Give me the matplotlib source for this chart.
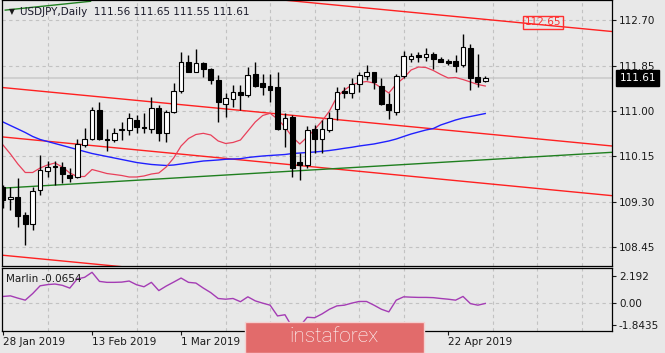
import matplotlib.pyplot as plt
import matplotlib.transforms as mtransforms
from matplotlib.patches import Rectangle

# USDJPY daily bars, 28 Jan 2019 .. 29 Apr 2019
opens = [109.58, 109.36, 109.40, 109.05, 108.88, 109.52, 109.88, 109.98, 109.96, 109.80,
         109.77, 110.36, 110.47, 111.01, 110.48, 110.46, 110.64, 110.65, 110.84, 110.70,
         110.66, 111.05, 110.58, 110.99, 111.38, 111.91, 111.73, 111.89, 111.78, 111.58,
         111.13, 111.22, 111.36, 111.29, 111.70, 111.53, 111.47, 111.44, 110.66, 110.88,
         110.04, 109.99, 110.66, 110.47, 110.65, 111.03, 111.37, 111.33, 111.50, 111.66,
         111.72, 111.47, 111.14, 110.99, 111.66, 111.97, 112.05, 112.00, 112.06, 111.98,
         111.94, 111.94, 111.86, 112.18, 111.64, 111.56]
highs = [109.62, 109.58, 109.75, 109.12, 109.58, 110.18, 110.07, 110.07, 110.05, 109.93,
         110.47, 110.68, 111.08, 111.16, 110.66, 110.68, 110.80, 110.96, 110.92, 110.96,
         111.27, 111.11, 111.02, 111.53, 112.10, 112.05, 112.16, 111.92, 111.80, 111.67,
         111.33, 111.49, 111.49, 111.83, 111.92, 111.70, 111.70, 111.73, 110.96, 110.92,
         110.21, 110.72, 110.74, 110.83, 110.99, 111.45, 111.45, 111.61, 111.72, 111.86,
         111.73, 111.61, 111.33, 111.70, 112.12, 112.08, 112.11, 112.17, 112.11, 112.01,
         111.98, 112.05, 112.43, 112.26, 112.06, 111.65]
lows = [109.19, 109.15, 108.84, 108.50, 108.78, 109.43, 109.77, 109.62, 109.65, 109.68,
        109.74, 110.33, 110.46, 110.46, 110.26, 110.43, 110.46, 110.55, 110.58, 110.58,
        110.58, 110.44, 110.43, 110.97, 111.33, 111.72, 111.72, 111.64, 111.50, 110.80,
        110.88, 111.08, 111.02, 111.27, 111.45, 111.30, 111.17, 110.65, 110.33, 109.77,
        109.71, 109.93, 110.21, 110.21, 110.61, 110.84, 111.24, 111.24, 111.36, 111.58,
        111.42, 111.11, 110.85, 110.93, 111.61, 111.91, 111.91, 111.93, 111.78, 111.91,
        111.86, 111.73, 111.83, 111.39, 111.45, 111.55]
closes = [109.34, 109.40, 109.03, 108.88, 109.50, 109.90, 109.96, 109.95, 109.82, 109.74,
          110.38, 110.47, 111.02, 110.47, 110.45, 110.59, 110.65, 110.86, 110.70, 110.69,
          111.05, 110.58, 110.99, 111.38, 111.91, 111.73, 111.89, 111.78, 111.58, 111.17,
          111.24, 111.36, 111.30, 111.67, 111.47, 111.45, 111.40, 110.66, 110.86, 109.94,
          109.99, 110.65, 110.47, 110.66, 110.86, 111.35, 111.33, 111.50, 111.67, 111.72,
          111.54, 111.14, 111.02, 111.65, 112.03, 112.03, 112.00, 112.06, 111.97, 111.92,
          111.90, 111.85, 112.20, 111.61, 111.54, 111.61]

# moving averages (fast = red, slow = blue)
ma_fast = [110.365, 110.197, 110.010, 109.851, 109.851, 109.935, 109.991, 110.029, 109.954, 109.842,
           109.776, 109.776, 109.907, 109.870, 109.832, 109.814, 109.795, 109.767, 109.767, 109.786,
           109.823, 109.842, 109.954, 110.122, 110.346, 110.486, 110.561, 110.583, 110.552, 110.440,
           110.393, 110.412, 110.458, 110.626, 110.795, 110.916, 110.957, 110.851, 110.701, 110.514,
           110.384, 110.514, 110.654, 110.813, 111.000, 111.262, 111.392, 111.486, 111.532, 111.551,
           111.523, 111.430, 111.336, 111.504, 111.617, 111.766, 111.822, 111.813, 111.757, 111.682,
           111.617, 111.626, 111.588, 111.542, 111.495, 111.467]
ma_slow = [110.795, 110.729, 110.664, 110.598, 110.524, 110.468, 110.430, 110.393, 110.356, 110.318,
           110.281, 110.243, 110.206, 110.178, 110.150, 110.122, 110.094, 110.066, 110.038, 110.019,
           110.001, 109.991, 109.982, 109.991, 110.010, 110.029, 110.047, 110.066, 110.075, 110.085,
           110.098, 110.103, 110.109, 110.131, 110.146, 110.159, 110.169, 110.178, 110.187, 110.206,
           110.215, 110.225, 110.234, 110.247, 110.262, 110.281, 110.303, 110.322, 110.346, 110.365,
           110.384, 110.412, 110.440, 110.477, 110.524, 110.570, 110.608, 110.645, 110.673, 110.739,
           110.785, 110.832, 110.869, 110.897, 110.925, 110.953]

# Marlin oscillator
marlin = [0.52, 0.57, 0.38, 0.21, 0.76, 1.41, 1.51, 1.56, 1.45, 1.22,
          1.98, 2.12, 2.54, 1.78, 1.70, 1.70, 1.72, 1.81, 1.50, 1.33,
          1.70, 1.01, 1.39, 1.72, 2.06, 1.70, 1.64, 1.22, 0.84, 0.35,
          0.29, 0.35, 0.08, 0.49, 0.15, -0.04, -0.21, -1.11, -1.01, -2.06,
          -1.98, -1.22, -1.26, -0.94, -0.55, -0.27, -0.21, -0.04, 0.10, 0.10,
          -0.21, -0.55, -0.77, 0.21, 0.49, 0.46, 0.44, 0.44, 0.42, 0.35,
          0.29, 0.21, 0.52, -0.08, -0.21, -0.0654]

# trend lines: (bar0, price0, bar1, price1)
red_lines = [(-0.4, 113.58, 82.1, 112.485),
             (-0.4, 111.443, 82.1, 110.346),
             (-0.4, 110.52, 82.1, 109.418),
             (-0.4, 108.31, 82.1, 107.21)]
green_lines = [(-0.4, 109.556, 82.1, 110.2285),
               (0.3, 112.885, 11.8, 113.05)]

price_ticks = [108.45, 109.30, 110.15, 111.00, 111.85, 112.70]
marlin_ticks = [-1.8435, 0.0, 2.192]
marlin_tick_labels = ['-1.8435', '0.00', '2.192']
date_pos = [0, 12, 24, 60]
date_labels = ['28 Jan 2019', '13 Feb 2019', '1 Mar 2019', '22 Apr 2019']
last_price = 111.61
level_label = 112.65

bg = '#e8e8e8'
W, H = 665, 353


def box(l, t, r, b):
    return [l / W, 1 - b / H, (r - l) / W, (b - t) / H]


fig = plt.figure(figsize=(6.65, 3.53), dpi=100)
fig.patch.set_facecolor(bg)
ax = fig.add_axes(box(2, 0, 612, 266))
osc = fig.add_axes(box(2, 268, 612, 331), sharex=ax)

n = len(closes)
x = list(range(n))

for a in (ax, osc):
    a.set_facecolor(bg)
    for s in a.spines.values():
        s.set_linewidth(0.9)
        s.set_color('black')
    a.set_xticks(range(0, 84, 6), minor=True)
    a.grid(which='minor', axis='x', color='#c2c2c2', lw=0.8, ls=(0, (3, 3)))
    a.tick_params(which='minor', length=0)
    a.yaxis.tick_right()
    a.tick_params(axis='y', direction='out', length=3, pad=2, labelsize=7.5, colors='#1a1a1a')

# main chart
ax.set_xlim(-0.135, 82.08)
ax.set_ylim(108.104, 113.074)
ax.set_yticks(price_ticks)
ax.set_yticklabels(['%.2f' % v for v in price_ticks])
ax.grid(which='major', axis='y', color='#c2c2c2', lw=0.8, ls=(0, (3, 3)))
ax.tick_params(axis='x', which='major', bottom=False, labelbottom=False)

ax.axhline(last_price, color='#cccccc', lw=1.2, zorder=1)

for (x0, p0, x1, p1) in red_lines:
    ax.plot([x0, x1], [p0, p1], color='#ff2020', lw=1, zorder=2)
for (x0, p0, x1, p1) in green_lines:
    ax.plot([x0, x1], [p0, p1], color='#1f7f1f', lw=1, zorder=2)

ax.plot(x, ma_slow, color='#2020ff', lw=1, zorder=2)
ax.plot(x, ma_fast, color='#e8405a', lw=0.9, zorder=2)

ax.vlines(x, lows, highs, color='black', lw=1, zorder=3)
bottoms = [min(o, c) for o, c in zip(opens, closes)]
heights = [max(abs(c - o), 0.015) for o, c in zip(opens, closes)]
colors = ['white' if c >= o else 'black' for o, c in zip(opens, closes)]
ax.bar(x, heights, bottom=bottoms, width=0.64, color=colors, edgecolor='black',
       linewidth=0.8, zorder=4)

trans = mtransforms.blended_transform_factory(ax.transAxes, ax.transData)
ax.text(1.012, last_price, '%.2f' % last_price, transform=trans, color='white',
        fontsize=7.5, va='center', ha='left', clip_on=False,
        bbox=dict(boxstyle='square,pad=0.3', facecolor='black', edgecolor='black'))
ax.text(70.3, level_label + 0.01, '%.2f' % level_label, color='#ff3030', fontsize=7.5,
        va='center', ha='left', zorder=5,
        bbox=dict(boxstyle='square,pad=0.15', facecolor='none', edgecolor='#ff3030', lw=1))

ax.text(0.011, 0.955, '\u25bc', transform=ax.transAxes, fontsize=5.5, color='#1a1a1a',
        va='center', ha='left')
ax.text(0.030, 0.955, 'USDJPY,Daily  111.56 111.65 111.55 111.61', transform=ax.transAxes,
        fontsize=7.5, color='#1a1a2a', va='center', ha='left')

# oscillator
osc.set_ylim(-2.37, 2.90)
osc.plot(x, marlin, color='#a43cb4', lw=1)
osc.axhline(0, color='#c2c2c2', lw=0.8, ls=(0, (3, 3)), zorder=0)
osc.set_yticks(marlin_ticks)
osc.set_yticklabels(marlin_tick_labels)
osc.set_xticks(date_pos)
osc.set_xticklabels(date_labels)
osc.tick_params(axis='x', which='major', direction='out', length=3, pad=1.5,
                labelsize=7.5, colors='#1a1a1a')
for lbl in osc.get_xticklabels():
    lbl.set_ha('left')
osc.text(0.007, 0.83, 'Marlin -0.0654', transform=osc.transAxes, fontsize=7.5,
         color='#1a1a1a', va='center', ha='left')

# watermark
fig.patches.append(Rectangle((245 / W, 0), 179 / W, 31.5 / H, transform=fig.transFigure,
                             facecolor='#e26b6b', edgecolor='#f4d0d0', lw=1, zorder=10))
fig.text(334 / W, 17 / H, 'instaforex', color='white', fontsize=15, family='Roboto',
         weight='light', ha='center', va='center', zorder=11)

fig.savefig('out.png', dpi=100, facecolor=fig.get_facecolor())
